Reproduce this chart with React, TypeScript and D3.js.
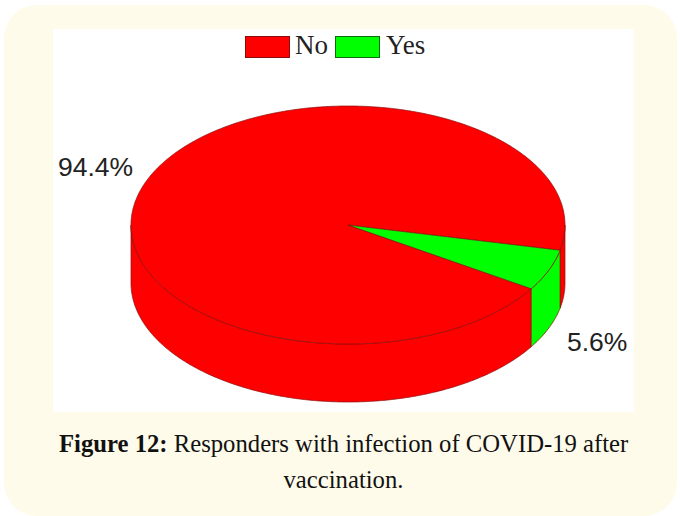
import React from "react";
import * as d3 from "d3";

const categories = ["No", "Yes"];
const values = [94.4, 5.6];
const valueLabels = ["94.4%", "5.6%"];
const colors = ["#ff0000", "#00ff00"];
const captionBold = "Figure 12:";
const captionLine1 = " Responders with infection of COVID-19 after";
const captionLine2 = "vaccination.";

const W = 680, H = 516;
const cx = 348, cy = 225, rx = 217, ry = 119, depth = 58;
const edge = "#8a0c0c";

// Angles run clockwise from 3 o'clock; the "Yes" slice ends 32.4deg below it.
const yesEnd = (32.4 * Math.PI) / 180;
const pieGen = d3.pie<number>().sort(null).startAngle(yesEnd).endAngle(yesEnd + 2 * Math.PI);
const arcs = pieGen(values);

const px = (a: number) => cx + rx * Math.cos(a);
const py = (a: number) => cy + ry * Math.sin(a);
const steps = (a0: number, a1: number) => d3.range(a0, a1, 0.01).concat([a1]);
const line = d3.line<[number, number]>();
const sector = (a0: number, a1: number) =>
  line([[cx, cy], ...steps(a0, a1).map((a) => [px(a), py(a)] as [number, number])]) + "Z";
const wall = d3
  .area<number>()
  .x((a) => px(a))
  .y0((a) => py(a))
  .y1((a) => py(a) + depth);
const wallPath = (a0: number, a1: number) => {
  const s = Math.max(a0, 0), e = Math.min(a1, Math.PI);
  return s < e ? wall(steps(s, e)) : "";
};
const wallSegs = arcs.flatMap((d, i) => {
  const segs = [[d.startAngle, d.endAngle], [d.startAngle - 2 * Math.PI, d.endAngle - 2 * Math.PI]];
  return segs.map(([a, b]) => ({ i, path: wallPath(a, b) })).filter((s) => s.path);
});

export default function App() {
  return (
    <svg width={W} height={H} style={{ position: "fixed", left: 0, top: 0 }}>
      <rect x={0} y={0} width={W} height={H} fill="#ffffff" />
      <rect x={4} y={5} width={673} height={511} rx={33} fill="#fffbea" />
      <rect x={53} y={29} width={581} height={383} fill="#ffffff" />

      {wallSegs.map((s, k) => (
        <path key={k} d={s.path as string} fill={colors[s.i]} stroke={edge} strokeWidth={0.7} />
      ))}
      {arcs.map((d, i) => (
        <path
          key={categories[i]}
          d={sector(d.startAngle, d.endAngle)}
          fill={colors[i]}
          stroke={edge}
          strokeWidth={0.7}
        />
      ))}

      <rect x={245.5} y={36.5} width={44} height={21} fill={colors[0]} stroke={edge} />
      <text x={295} y={54} fontFamily="Liberation Serif" fontSize={27} fill="#222">{categories[0]}</text>
      <rect x={335.5} y={36.5} width={44} height={21} fill={colors[1]} stroke="#0c6b0c" />
      <text x={386} y={54} fontFamily="Liberation Serif" fontSize={27} fill="#222">{categories[1]}</text>

      <text x={58} y={176} fontFamily="Liberation Sans" fontSize={26.5} fill="#222">{valueLabels[0]}</text>
      <text x={567} y={351} fontFamily="Liberation Sans" fontSize={26.5} fill="#222">{valueLabels[1]}</text>

      <text x={59} y={452} fontFamily="Liberation Serif" fontSize={24.7} fill="#111" xmlSpace="preserve">
        <tspan fontWeight="bold">{captionBold}</tspan>
        <tspan>{captionLine1}</tspan>
      </text>
      <text x={343.5} y={488} textAnchor="middle" fontFamily="Liberation Serif" fontSize={24.7} fill="#111">{captionLine2}</text>
    </svg>
  );
}
